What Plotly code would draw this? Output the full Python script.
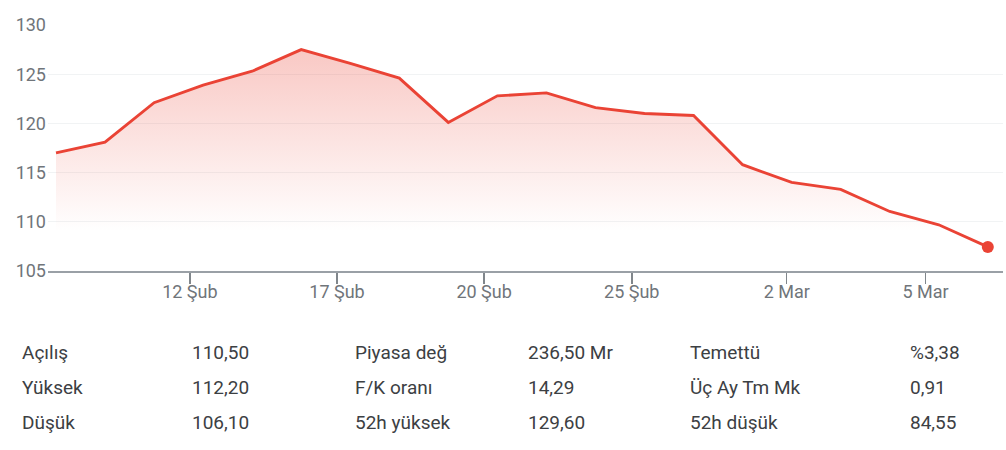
import plotly.graph_objects as go

# ---- data ----
dates = ["2026-02-09", "2026-02-10", "2026-02-11", "2026-02-12", "2026-02-13",
         "2026-02-16", "2026-02-17", "2026-02-18", "2026-02-19", "2026-02-20",
         "2026-02-23", "2026-02-24", "2026-02-25", "2026-02-26", "2026-02-27",
         "2026-03-02", "2026-03-03", "2026-03-04", "2026-03-05", "2026-03-06"]
prices = [117.0, 118.1, 122.1, 123.9, 125.3, 127.5, 126.1, 124.6, 120.1, 122.8,
          123.1, 121.6, 121.0, 120.8, 115.8, 114.0, 113.3, 111.05, 109.7, 107.45]
x_tick_labels = ["12 Şub", "17 Şub", "20 Şub", "25 Şub", "2 Mar", "5 Mar"]
x_tick_pos = [2.73, 5.73, 8.73, 11.74, 14.90, 17.73]
y_ticks = [105, 110, 115, 120, 125, 130]

stat_labels_1 = ["Açılış", "Yüksek", "Düşük"]
stat_values_1 = ["110,50", "112,20", "106,10"]
stat_labels_2 = ["Piyasa değ", "F/K oranı", "52h yüksek"]
stat_values_2 = ["236,50 Mr", "14,29", "129,60"]
stat_labels_3 = ["Temettü", "Üç Ay Tm Mk", "52h düşük"]
stat_values_3 = ["%3,38", "0,91", "84,55"]

# ---- figure ----
W, H = 1006, 450
L, R, T, B = 48, 3, 25, 179
plot_w = W - L - R
plot_h = H - T - B

RED = "#ea4335"
xs = list(range(len(prices)))

fig = go.Figure()
fig.add_trace(go.Scatter(
    x=xs, y=prices, mode="lines",
    line=dict(color=RED, width=2.9),
    fill="tozeroy",
    fillgradient=dict(
        type="vertical",
        colorscale=[[0, "rgba(234,67,53,0)"], [1, "rgba(234,67,53,0.30)"]],
        start=109, stop=128,
    ),
    hoverinfo="skip",
))
fig.add_trace(go.Scatter(
    x=[xs[-1]], y=[prices[-1]], mode="markers",
    marker=dict(color=RED, size=12),
    cliponaxis=False,
    hoverinfo="skip",
))

font_family = "Roboto, Arial, sans-serif"

fig.update_layout(
    width=W, height=H,
    margin=dict(l=L, r=R, t=T, b=B),
    paper_bgcolor="white", plot_bgcolor="white",
    showlegend=False,
    font=dict(family=font_family),
    xaxis=dict(
        range=[-0.163, 19.31],
        tickmode="array", tickvals=x_tick_pos, ticktext=x_tick_labels,
        ticks="outside", ticklen=11, tickwidth=1.5, tickcolor="#80868b",
        showline=True, linecolor="#9aa0a6", linewidth=2,
        showgrid=False, zeroline=False,
        tickfont=dict(size=18, color="#70757a"),
        ticklabelstandoff=-8,
        fixedrange=True,
    ),
    yaxis=dict(
        range=[105, 130],
        tickmode="array", tickvals=y_ticks,
        showgrid=True, gridcolor="#f1f3f4", gridwidth=1,
        zeroline=False, showline=False,
        tickfont=dict(size=18, color="#70757a"),
        ticks="", ticklabelstandoff=1,
        fixedrange=True,
    ),
)

# ---- stats table as text annotations ----
plot_bottom_px = T + plot_h
row_y_px = [352, 387, 422]
col_x_px = [20, 190, 353, 526, 688, 908]
columns = [stat_labels_1, stat_values_1, stat_labels_2, stat_values_2, stat_labels_3, stat_values_3]

for cx, col in zip(col_x_px, columns):
    for ry, txt in zip(row_y_px, col):
        fig.add_annotation(
            x=(cx - L) / plot_w, y=(plot_bottom_px - ry) / plot_h,
            xref="paper", yref="paper",
            xanchor="left", yanchor="middle",
            text=txt, showarrow=False,
            font=dict(size=19, color="#3c4043", family=font_family),
        )

fig.write_html(
    "out.html",
    config={"displayModeBar": False, "staticPlot": True},
    post_script="document.body.style.margin='0';document.body.style.padding='0';",
)
